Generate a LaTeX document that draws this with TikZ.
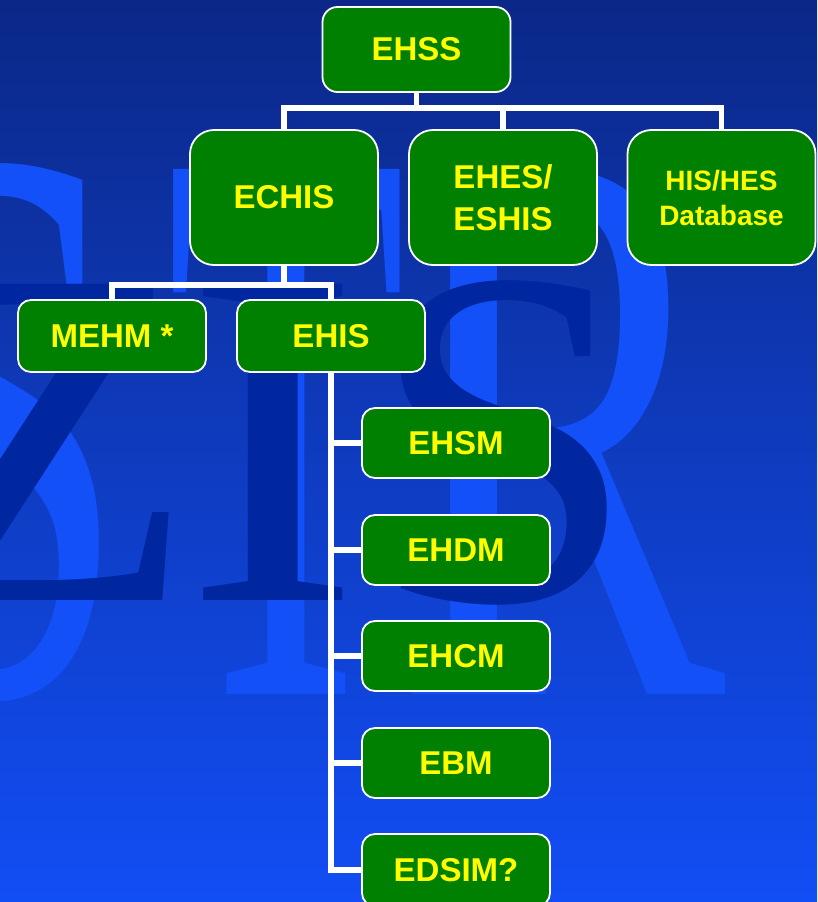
\documentclass[tikz,border=0pt]{standalone}
\usepackage{fontspec}
\usepackage{graphicx}
\setmainfont{Liberation Sans}
\newfontfamily\wmfont{Liberation Serif}
\definecolor{bgtop}{RGB}{11,40,136}
\definecolor{bgmid}{RGB}{15,62,205}
\definecolor{bgbot}{RGB}{18,78,245}
\definecolor{wmlight}{RGB}{20,80,248}
\definecolor{wmdark}{RGB}{0,38,160}
\definecolor{boxgreen}{RGB}{0,128,0}
\definecolor{txtyellow}{RGB}{255,255,0}
\begin{document}
\begin{tikzpicture}[x=1pt,y=-1pt,
  box/.style={draw=white, line width=1.8pt, fill=boxgreen, text=txtyellow,
    font=\bfseries\fontsize{33}{42}\selectfont, align=center, inner sep=0pt,
    minimum width=188pt},
  bigbox/.style={box, minimum height=135pt, rounded corners=24pt},
  smallbox/.style={box, minimum height=70pt, rounded corners=13pt},
  conn/.style={draw=white, line width=5.8pt},
  wm/.style={inner sep=0pt, anchor=base}
]
\useasboundingbox (0,0) rectangle (817,902);
\clip (0,0) rectangle (817,902);
\shade[top color=bgtop, middle color=bgmid, bottom color=bgbot] (0,0) rectangle (817,902);

% watermark, light layer
\node[wm, text=wmlight] (wla) at (-5,694) {\scalebox{0.6}[1]{\wmfont\fontsize{802}{802}\selectfont S}};
\node[wm, text=wmlight] (wlb) at (287,694) {\scalebox{0.49}[1]{\wmfont\fontsize{802}{802}\selectfont T}};
\node[wm, text=wmlight] (wlc) at (560,694) {\scalebox{0.62}[1]{\wmfont\fontsize{802}{802}\selectfont R}};
% watermark, dark layer
\node[wm, text=wmdark] (wda) at (48,600) {\wmfont\fontsize{483}{483}\selectfont Z};
\node[wm, text=wmdark] (wdb) at (273,600) {\scalebox{1.1}[1]{\wmfont\fontsize{483}{483}\selectfont I}};
\node[wm, text=wmdark] (wdc) at (503,600) {\wmfont\fontsize{483}{483}\selectfont S};

% boxes
\node[smallbox, minimum height=85pt, rounded corners=15pt] (ehss) at (416.5,49.5) {EHSS};
\node[bigbox] (echis) at (284,197.5) {ECHIS};
\node[bigbox] (ehes) at (503,197.5) {EHES/\\ESHIS};
\node[bigbox, font=\bfseries\fontsize{28}{35}\selectfont] (hisdb) at (721.5,197.5) {HIS/HES\\Database};
\node[smallbox, minimum height=72pt] (mehm) at (112,336) {MEHM *};
\node[smallbox, minimum height=72pt] (ehis) at (331,336) {EHIS};
\node[smallbox] (ehsm) at (456,443) {EHSM};
\node[smallbox] (ehdm) at (456,550) {EHDM};
\node[smallbox] (ehcm) at (456,656) {EHCM};
\node[smallbox] (ebm) at (456,763) {EBM};
\node[smallbox, minimum height=72pt] (edsim) at (456,870) {EDSIM?};

% connectors
\coordinate (b1) at (417,108);
\coordinate (b2) at (284,285);
\draw[conn] (ehss.south) -- (ehss.south |- b1);
\draw[conn] (echis.north) |- (hisdb.north |- b1) -- (hisdb.north);
\draw[conn] (ehes.north) -- (ehes.north |- b1);
\draw[conn] (echis.south) -- (echis.south |- b2);
\draw[conn] (mehm.north) |- (ehis.north |- b2) -- (ehis.north);
\draw[conn] (ehis.south) |- (edsim.west);
\draw[conn] (ehsm.west) -- (ehsm.west -| ehis.south);
\draw[conn] (ehdm.west) -- (ehdm.west -| ehis.south);
\draw[conn] (ehcm.west) -- (ehcm.west -| ehis.south);
\draw[conn] (ebm.west) -- (ebm.west -| ehis.south);
\end{tikzpicture}
\end{document}
